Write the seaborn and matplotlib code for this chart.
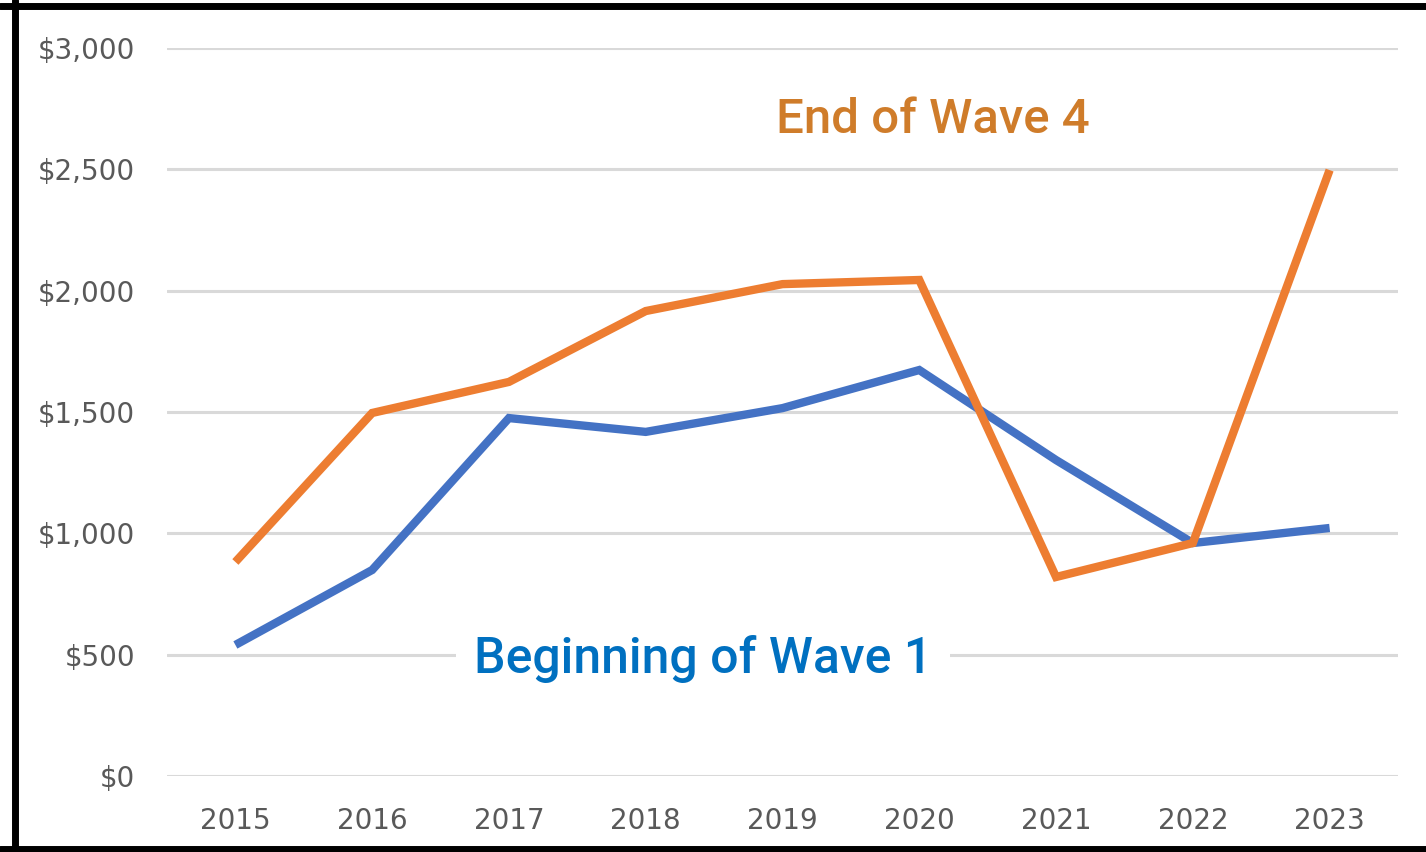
import matplotlib
matplotlib.use("Agg")
import matplotlib.pyplot as plt
import seaborn as sns
import pandas as pd
from matplotlib.ticker import FuncFormatter

years = ["2015", "2016", "2017", "2018", "2019", "2020", "2021", "2022", "2023"]
beginning_wave1 = [540, 849, 1475, 1418, 1516, 1673, 1302, 960, 1022]
end_wave4 = [882, 1496, 1624, 1916, 2027, 2044, 820, 960, 2497]
y_ticks = [0, 500, 1000, 1500, 2000, 2500, 3000]

sns.set_theme(style="white")
plt.rcParams['font.family'] = ['DejaVu Sans']

fig = plt.figure(figsize=(14.26, 8.52), dpi=100)
ax = fig.add_axes([167/1426, 1-776/852, (1398-167)/1426, (776-48)/852])

idx = list(range(len(years)))
df = pd.DataFrame({"x": idx * 2,
                   "value": beginning_wave1 + end_wave4,
                   "series": ["Beginning of Wave 1"] * len(years) + ["End of Wave 4"] * len(years)})
sns.lineplot(data=df, x="x", y="value", hue="series",
             palette={"Beginning of Wave 1": "#4472C4", "End of Wave 4": "#ED7D31"},
             linewidth=6, legend=False, ax=ax, zorder=3)
for ln in ax.get_lines():
    ln.set_solid_capstyle("butt")
    ln.set_solid_joinstyle("miter")

ax.set_xlim(-0.5, len(years) - 0.5)
ax.set_ylim(0, 3000)
ax.set_yticks(y_ticks)
ax.yaxis.set_major_formatter(FuncFormatter(lambda v, p: f"${int(v):,}"))
ax.set_xticks(idx)
ax.set_xticklabels(years)
ax.grid(axis="y", color="#D9D9D9", linewidth=2.2)
ax.grid(axis="x", visible=False)
ax.set_axisbelow(True)
for s in ax.spines.values():
    s.set_visible(False)
ax.tick_params(axis="both", length=0, labelsize=20, labelcolor="#595959")
ax.tick_params(axis="y", pad=23)
ax.tick_params(axis="x", pad=22)
ax.set_xlabel("")
ax.set_ylabel("")

ax.text(5.1, 2703, "End of Wave 4", color="#CF7C2A", fontsize=35.5, fontweight="medium",
        family=["Roboto", "DejaVu Sans"], ha="center", va="center", zorder=4)
ax.text(3.42, 482, "Beginning of Wave 1", color="#0070C0", fontsize=36, fontweight="medium",
        family=["Roboto", "DejaVu Sans"], ha="center", va="center", zorder=4,
        bbox=dict(facecolor="white", edgecolor="none", pad=13))

# outer black frame (left, top, bottom)
fig.add_artist(plt.Line2D([15/1426, 15/1426], [0, 1], color="black", linewidth=5, transform=fig.transFigure))
fig.add_artist(plt.Line2D([0, 1], [1-6/852, 1-6/852], color="black", linewidth=5, transform=fig.transFigure))
fig.add_artist(plt.Line2D([0, 1], [3/852, 3/852], color="black", linewidth=5, transform=fig.transFigure))

fig.savefig("out.png", dpi=100)
